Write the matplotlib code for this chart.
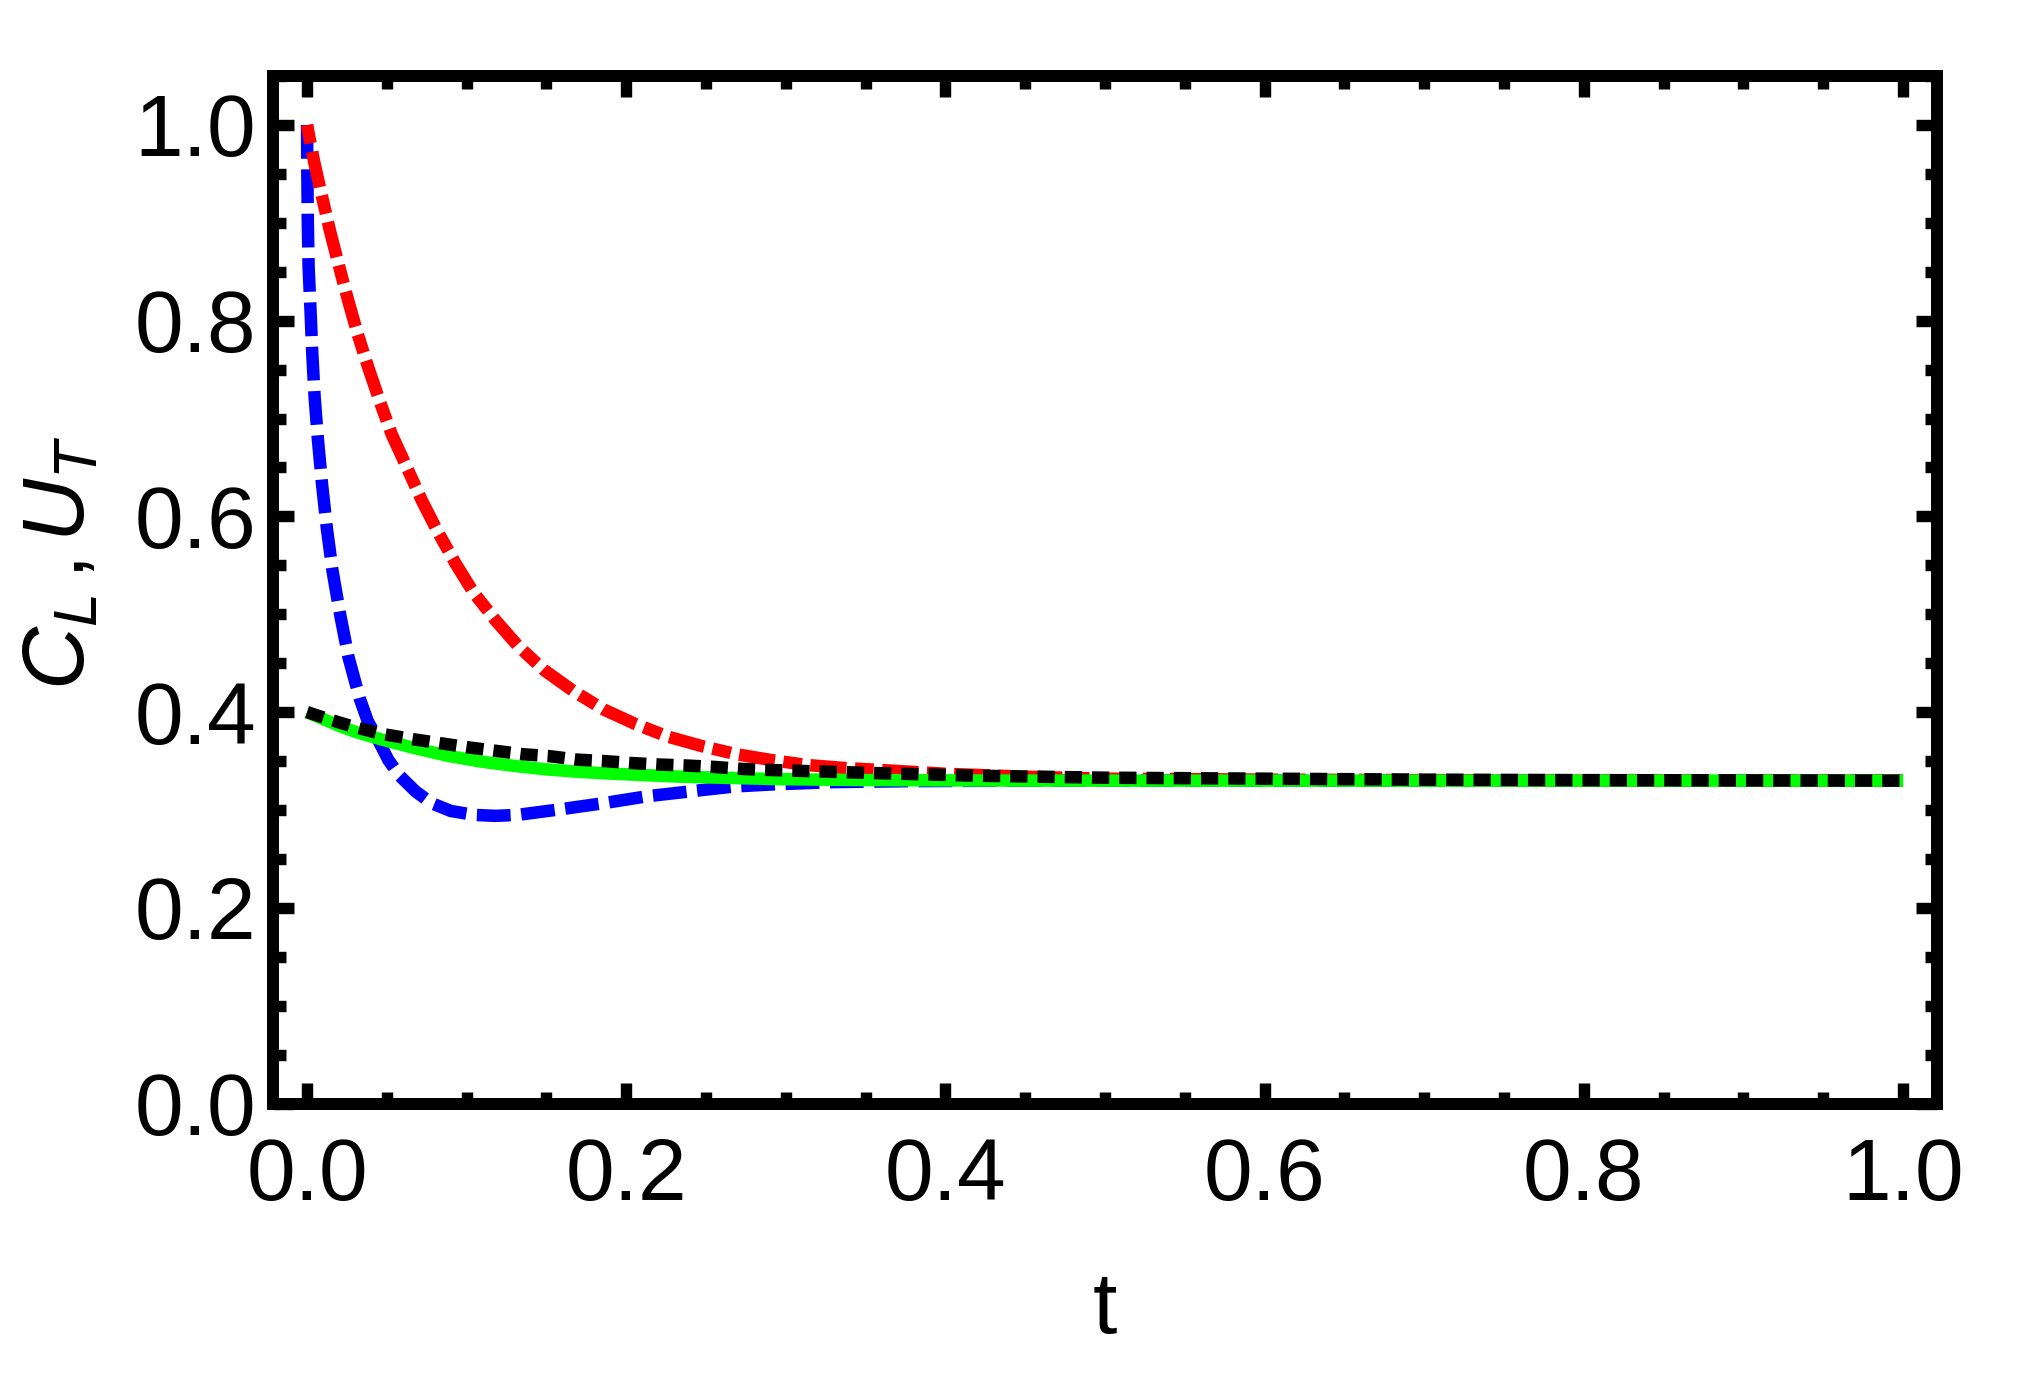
import numpy as np
import matplotlib.pyplot as plt
from matplotlib.ticker import MultipleLocator

plt.rcParams['font.family'] = ['Liberation Sans', 'DejaVu Sans']
plt.rcParams['mathtext.fontset'] = 'custom'
plt.rcParams['mathtext.it'] = 'Liberation Sans:italic'
plt.rcParams['mathtext.rm'] = 'Liberation Sans'

# blue dashed
t_blue = [0, 0.0002, 0.0005, 0.001, 0.0022, 0.0033, 0.0048, 0.0069, 0.0094, 0.0124,
          0.016, 0.0207, 0.026, 0.033, 0.038, 0.0447, 0.051, 0.058, 0.068, 0.078, 0.09,
          0.1046, 0.118, 0.132, 0.16, 0.186, 0.213, 0.24, 0.2675, 0.29, 0.33, 0.38,
          0.45, 0.6, 0.8, 1.0]
c_blue = [1.0, 0.95, 0.90, 0.855, 0.81, 0.766, 0.721, 0.677, 0.633, 0.588,
          0.544, 0.50, 0.456, 0.414, 0.391, 0.371, 0.351, 0.335, 0.319, 0.307, 0.299,
          0.295, 0.294, 0.295, 0.301, 0.307, 0.314, 0.319, 0.324, 0.326, 0.3285, 0.3295,
          0.33, 0.33, 0.33, 0.33]

# red dot-dashed
t_red = [0, 0.0045, 0.0095, 0.0145, 0.020, 0.0257, 0.0318, 0.0386, 0.0457, 0.053,
         0.062, 0.072, 0.082, 0.093, 0.104, 0.118, 0.132, 0.1485, 0.1665, 0.1855,
         0.2055, 0.226, 0.248, 0.269, 0.291, 0.313, 0.336, 0.358, 0.40, 0.45, 0.5,
         0.6, 0.8, 1.0]
c_red = [1.0, 0.962, 0.926, 0.891, 0.856, 0.821, 0.786, 0.751, 0.717, 0.684,
         0.652, 0.616, 0.584, 0.552, 0.523, 0.494, 0.468, 0.443, 0.422, 0.403,
         0.388, 0.375, 0.365, 0.357, 0.351, 0.346, 0.343, 0.341, 0.337, 0.334, 0.332,
         0.331, 0.330, 0.330]

# green solid
t_green = [0, 0.01, 0.02, 0.03, 0.0457, 0.0667, 0.0877, 0.1088, 0.13, 0.15, 0.17,
           0.192, 0.234, 0.296, 0.35, 0.45, 0.7, 1.0]
c_green = [0.400, 0.393, 0.386, 0.380, 0.3725, 0.3635, 0.3555, 0.3495, 0.345, 0.3415,
           0.339, 0.337, 0.334, 0.3315, 0.3305, 0.330, 0.330, 0.330]

# black dotted
t_black = [0, 0.015, 0.0292, 0.046, 0.0677, 0.0845, 0.101, 0.118, 0.135, 0.152, 0.169,
           0.186, 0.203, 0.22, 0.237, 0.255, 0.272, 0.288, 0.35, 0.42, 0.5, 0.6, 0.7,
           0.8, 1.0]
c_black = [0.400, 0.392, 0.385, 0.378, 0.372, 0.368, 0.364, 0.3605, 0.357, 0.355, 0.3515,
           0.350, 0.348, 0.3465, 0.3455, 0.344, 0.342, 0.341, 0.338, 0.335, 0.333, 0.332,
           0.331, 0.3305, 0.330]

fig = plt.figure(figsize=(20.18, 13.85), dpi=100)
ax = fig.add_axes([0.1353, 0.2032, 0.8246, 0.7419])

lw = 9.0
ax.plot(t_blue, c_blue, color='#0000ff', lw=lw, dashes=(2.7, 0.85))
ax.plot(t_red, c_red, color='#ff0000', lw=lw, dashes=(1.5, 0.68, 2.9, 0.68))
ax.plot(t_green, c_green, color='#00ff00', lw=lw, solid_capstyle='butt')
ax.plot(t_black, c_black, color='black', lw=lw, dashes=(1.38, 0.8))

ax.set_xlim(-0.0213, 1.0213)
ax.set_ylim(0, 1.05)
ax.xaxis.set_major_locator(MultipleLocator(0.2))
ax.xaxis.set_minor_locator(MultipleLocator(0.05))
ax.yaxis.set_major_locator(MultipleLocator(0.2))
ax.yaxis.set_minor_locator(MultipleLocator(0.05))
ax.xaxis.set_major_formatter(lambda v, p: f'{v:.1f}')
ax.yaxis.set_major_formatter(lambda v, p: f'{v:.1f}')

for s in ax.spines.values():
    s.set_linewidth(8.64)
ax.tick_params(which='both', direction='in', top=True, right=True, width=8.2,
               labelsize=63)
ax.tick_params(which='major', length=15)
ax.tick_params(which='minor', length=9)
ax.tick_params(axis='x', pad=24)
ax.tick_params(axis='y', pad=12)

fig.text(0.0307, 0.5935, r'$C_L\,$,$\,U_T$', rotation=90, ha='center', va='center',
         fontsize=63)
fig.text(0.5476, 0.0375, 't', ha='center', va='baseline', fontsize=63)

fig.savefig('out.png', dpi=100)
